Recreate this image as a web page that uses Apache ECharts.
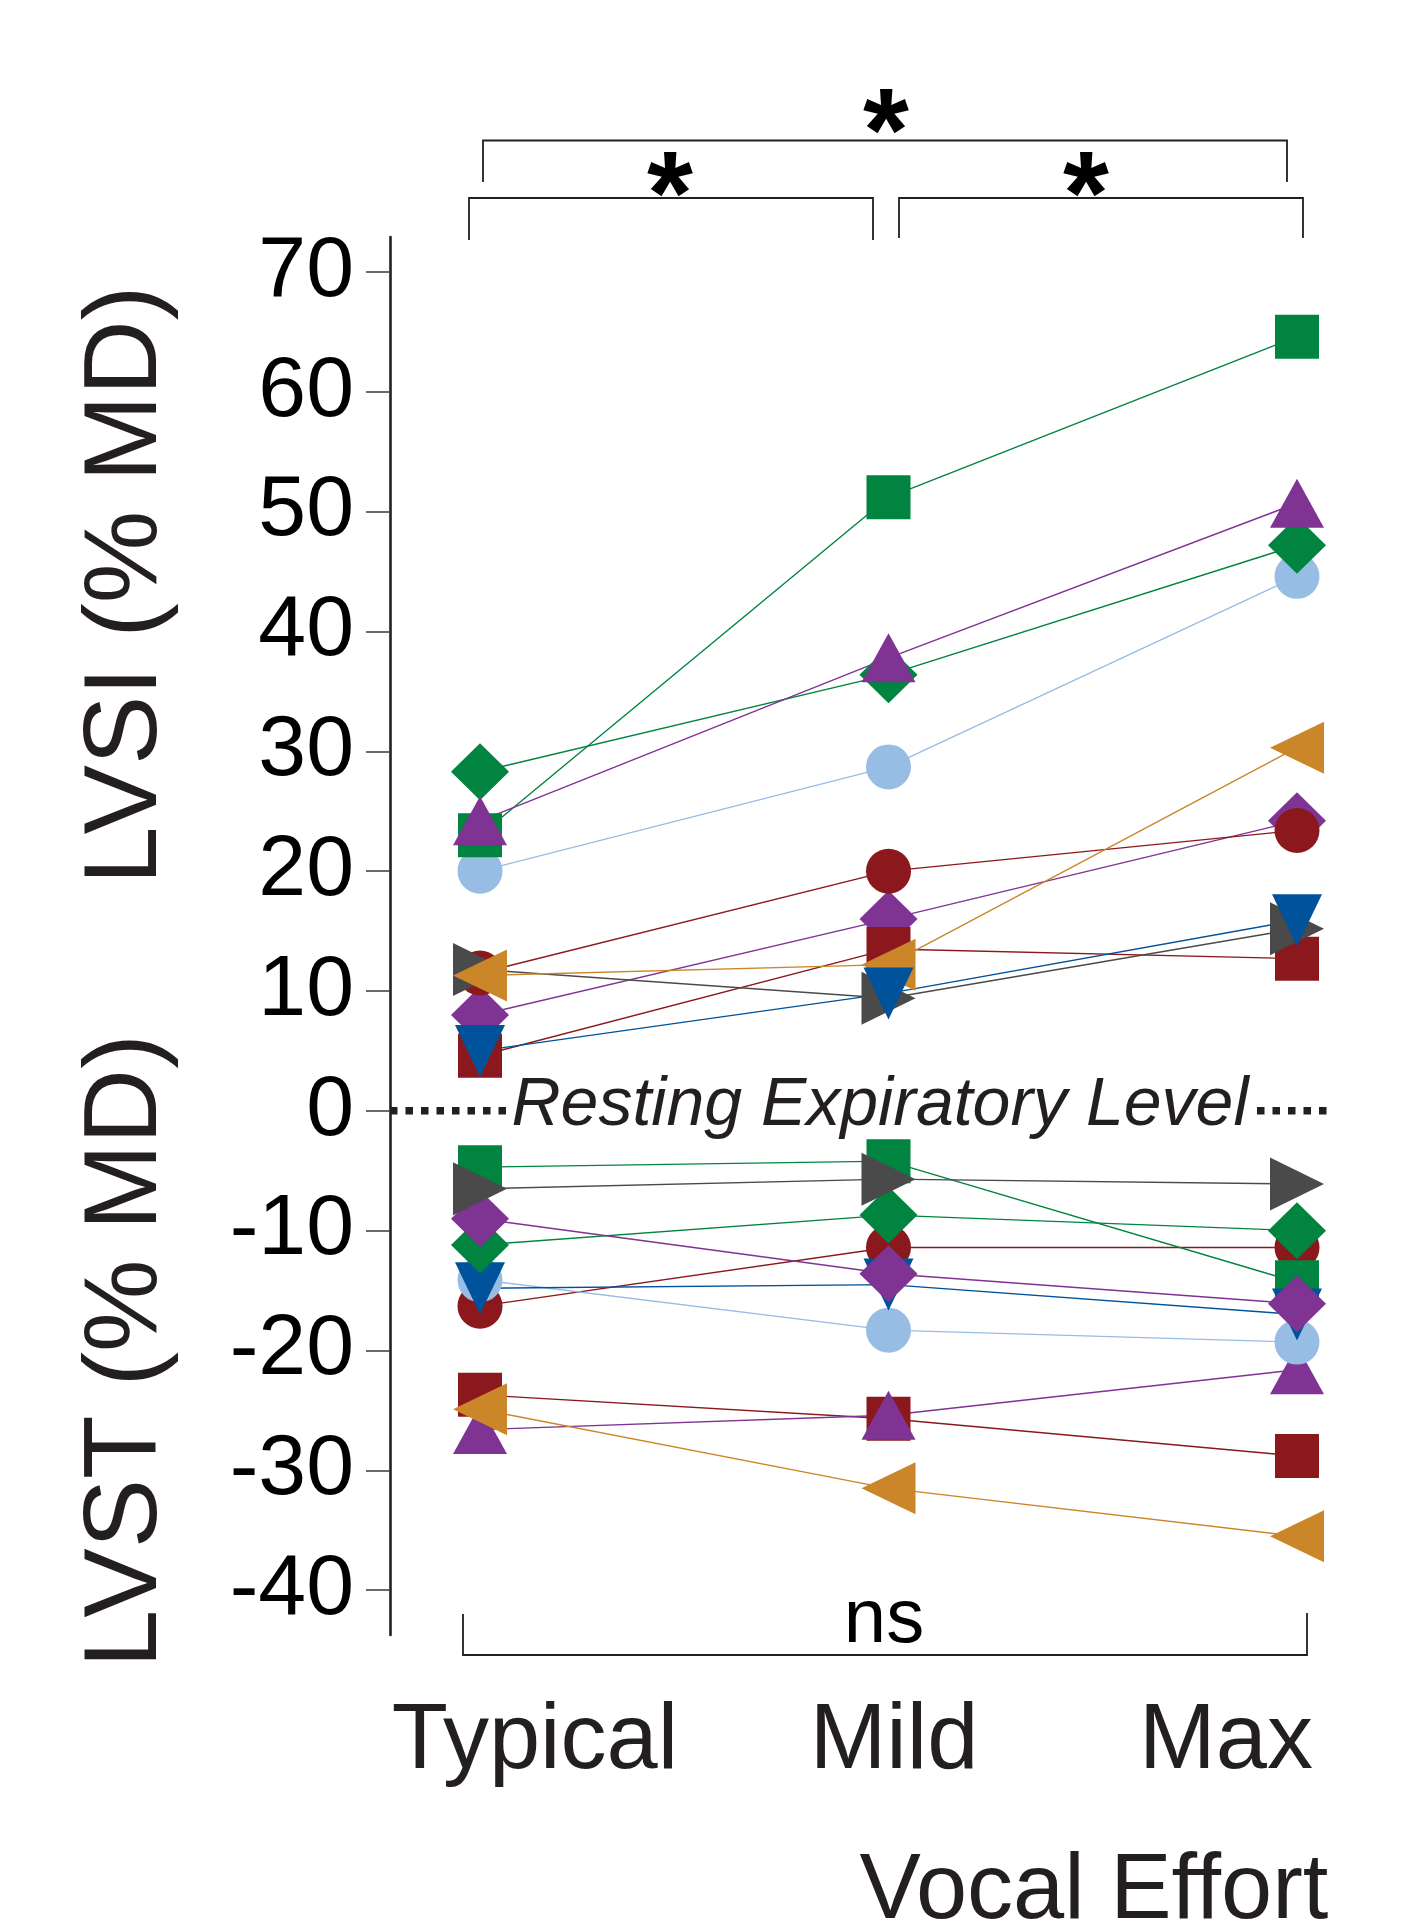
<!DOCTYPE html>
<html>
<head>
<meta charset="utf-8">
<script src="https://cdn.jsdelivr.net/npm/echarts@6/dist/echarts.min.js"></script>
<style>
  html, body { margin: 0; padding: 0; background: #fff; }
  #main { width: 1411px; height: 1923px; }
</style>
</head>
<body>
<div id="main"></div>
<script>
// effort levels and y ticks
var categories = ['Typical', 'Mild', 'Max'];
var yTickValues = [-40, -30, -20, -10, 0, 10, 20, 30, 40, 50, 60, 70];

// LVSI (% MD), one array per participant
var lvsiGreenSquare    = [23.0, 51.2, 64.6];
var lvsiGreenDiamond   = [28.3, 36.4, 47.2];
var lvsiPurpleTriangle = [24.2, 37.8, 50.7];
var lvsiSkyCircle      = [20.0, 28.7, 44.6];
var lvsiOrangeTriangle = [11.3, 12.2, 30.3];
var lvsiPurpleDiamond  = [8.0, 16.0, 24.2];
var lvsiRedCircle      = [11.5, 20.0, 23.4];
var lvsiRedSquare      = [4.6, 13.5, 12.7];
var lvsiNavyTriangle   = [5.0, 9.8, 15.9];
var lvsiGreyTriangle   = [11.8, 9.4, 15.2];

// LVST (% MD)
var lvstGreenSquare    = [-4.7, -4.2, -14.3];
var lvstGreenDiamond   = [-11.2, -8.7, -10.0];
var lvstPurpleTriangle = [-26.6, -25.4, -21.6];
var lvstSkyCircle      = [-14.1, -18.3, -19.3];
var lvstOrangeTriangle = [-24.9, -31.5, -35.5];
var lvstPurpleDiamond  = [-9.0, -13.6, -16.1];
var lvstRedCircle      = [-16.3, -11.4, -11.4];
var lvstRedSquare      = [-23.7, -25.7, -28.8];
var lvstNavyTriangle   = [-14.8, -14.5, -17.0];
var lvstGreyTriangle   = [-6.5, -5.7, -6.1];

var FONT = '"Liberation Sans", Arial, Helvetica, sans-serif';
var INK = '#231f20';

// marker look for each participant
var markers = {
    greenSquare:    { symbol: 'rect', size: 44, rotate: 0, color: '#00843f' },
    greenDiamond:   { symbol: 'diamond', size: [58, 57], rotate: 0, color: '#00843f' },
    purpleTriangle: { symbol: 'triangle', size: [54, 49], rotate: 0, color: '#7f3392' },
    skyCircle:      { symbol: 'circle', size: 45, rotate: 0, color: '#97bde5' },
    orangeTriangle: { symbol: 'triangle', size: [52, 54], rotate: 90, color: '#cc862a' },
    purpleDiamond:  { symbol: 'diamond', size: [58, 57], rotate: 0, color: '#7f3392' },
    redCircle:      { symbol: 'circle', size: 45, rotate: 0, color: '#8b181c' },
    redSquare:      { symbol: 'rect', size: 44, rotate: 0, color: '#8b181c' },
    navyTriangle:   { symbol: 'triangle', size: [50, 52], rotate: 180, color: '#00529b' },
    greyTriangle:   { symbol: 'triangle', size: [53, 54], rotate: -90, color: '#4a4a4a' }
};

var lvsiRows = {
    greenSquare: lvsiGreenSquare, greenDiamond: lvsiGreenDiamond, purpleTriangle: lvsiPurpleTriangle,
    skyCircle: lvsiSkyCircle, orangeTriangle: lvsiOrangeTriangle, purpleDiamond: lvsiPurpleDiamond,
    redCircle: lvsiRedCircle, redSquare: lvsiRedSquare, navyTriangle: lvsiNavyTriangle, greyTriangle: lvsiGreyTriangle
};
var lvstRows = {
    greenSquare: lvstGreenSquare, greenDiamond: lvstGreenDiamond, purpleTriangle: lvstPurpleTriangle,
    skyCircle: lvstSkyCircle, orangeTriangle: lvstOrangeTriangle, purpleDiamond: lvstPurpleDiamond,
    redCircle: lvstRedCircle, redSquare: lvstRedSquare, navyTriangle: lvstNavyTriangle, greyTriangle: lvstGreyTriangle
};

// drawing order (bottom -> top), as overlaps look in the figure
var lvsiOrder = ['skyCircle', 'greenSquare', 'greenDiamond', 'purpleDiamond', 'redCircle',
                 'redSquare', 'purpleTriangle', 'greyTriangle', 'orangeTriangle', 'navyTriangle'];
var lvstOrder = ['redSquare', 'purpleTriangle', 'orangeTriangle', 'redCircle', 'skyCircle',
                 'greenSquare', 'navyTriangle', 'greenDiamond', 'purpleDiamond', 'greyTriangle'];

function lineSeries(key, values) {
    return {
        type: 'line', data: values, symbol: 'none', z: 2, silent: true,
        lineStyle: { color: markers[key].color, width: 1.4 }
    };
}
function markerSeries(key, values) {
    var m = markers[key];
    return {
        type: 'scatter', data: values, z: 3, silent: true,
        symbol: m.symbol, symbolSize: m.size, symbolRotate: m.rotate,
        itemStyle: { color: m.color, opacity: 1 }
    };
}

var series = [];
lvsiOrder.forEach(function (k) { series.push(lineSeries(k, lvsiRows[k])); });
lvstOrder.forEach(function (k) { series.push(lineSeries(k, lvstRows[k])); });
lvsiOrder.forEach(function (k) { series.push(markerSeries(k, lvsiRows[k])); });
lvstOrder.forEach(function (k) { series.push(markerSeries(k, lvstRows[k])); });

var chart = echarts.init(document.getElementById('main'));

chart.setOption({
    animation: false,
    backgroundColor: '#fff',
    grid: { left: 480, right: 114, top: 237, bottom: 288 },
    xAxis: {
        type: 'category', data: categories, boundaryGap: false,
        axisLine: { show: false }, axisTick: { show: false }, axisLabel: { show: false },
        splitLine: { show: false }
    },
    yAxis: {
        type: 'value', min: -43.74, max: 72.92, offset: 90,
        axisLine: { show: true, lineStyle: { color: INK, width: 2.6 } },
        axisTick: { show: true, length: 24, customValues: yTickValues, lineStyle: { color: '#444', width: 1.6 } },
        axisLabel: { customValues: yTickValues, fontSize: 86, fontFamily: FONT, color: '#000', margin: 36 },
        splitLine: { show: false }
    },
    series: series
});

// annotations: resting level line, brackets, titles
var zeroY = chart.convertToPixel({ yAxisIndex: 0 }, 0);

function txt(text, x, y, size, extra) {
    var style = { text: text, x: 0, y: 0, fontSize: size, fontFamily: FONT, fill: INK, align: 'center', verticalAlign: 'middle' };
    for (var k in extra) style[k] = extra[k];
    return { type: 'text', x: x, y: y, z: 10, style: style };
}
function bracket(points) {
    return { type: 'polyline', z: 10, shape: { points: points }, style: { stroke: INK, lineWidth: 1.8, fill: null } };
}

var labelCenters = [535, 894, 1226];
var graphics = [
    // dotted resting expiratory level
    { type: 'line', z: 10, shape: { x1: 390, y1: zeroY, x2: 507, y2: zeroY },
      style: { stroke: INK, lineWidth: 7.5, lineDash: [7.5, 8] } },
    { type: 'line', z: 10, shape: { x1: 1257, y1: zeroY, x2: 1334, y2: zeroY },
      style: { stroke: INK, lineWidth: 7.5, lineDash: [7.5, 8] } },
    txt('Resting Expiratory Level', 880, zeroY - 5, 68, { fontStyle: 'italic' }),

    // significance brackets
    bracket([[483, 182], [483, 140.5], [1287, 140.5], [1287, 182]]),
    bracket([[469, 240], [469, 198], [873, 198], [873, 240]]),
    bracket([[899, 238], [899, 198], [1303, 198], [1303, 238]]),
    bracket([[463, 1614], [463, 1655], [1307, 1655], [1307, 1613]]),
    txt('*', 886, 138, 118, { fontWeight: 'bold', fill: '#000' }),
    txt('*', 670, 201, 118, { fontWeight: 'bold', fill: '#000' }),
    txt('*', 1086, 201, 118, { fontWeight: 'bold', fill: '#000' }),
    txt('ns', 884, 1621, 76, { fill: '#000' }),

    // axis titles
    { type: 'text', x: 127, y: 585, rotation: Math.PI / 2, z: 10,
      style: { text: 'LVSI (% MD)', fontSize: 104, fontFamily: FONT, fill: INK, align: 'center', verticalAlign: 'middle' } },
    { type: 'text', x: 127, y: 1351, rotation: Math.PI / 2, z: 10,
      style: { text: 'LVST (% MD)', fontSize: 104, fontFamily: FONT, fill: INK, align: 'center', verticalAlign: 'middle' } },
    txt('Vocal Effort', 1094, 1893, 92, {})
];
categories.forEach(function (c, i) {
    graphics.push(txt(c, labelCenters[i], 1743, 92, {}));
});

chart.setOption({ graphic: graphics });
</script>
</body>
</html>
